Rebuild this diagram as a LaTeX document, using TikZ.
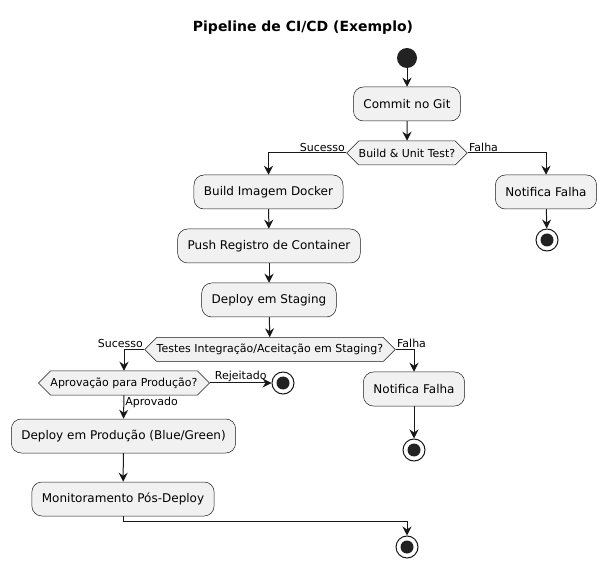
\documentclass[tikz,border=0pt]{standalone}
\usepackage{fontspec}
\setmainfont{DejaVu Sans}
\usetikzlibrary{arrows.meta,shapes.symbols}
\definecolor{linha}{HTML}{181818}
\definecolor{fundo}{HTML}{F1F1F1}
\definecolor{ponto}{HTML}{222222}
\tikzset{
  acao/.style={draw=linha, fill=fundo, rounded corners=10pt, minimum height=34pt,
    inner xsep=10pt, line width=0.5pt, font=\fontsize{12}{14}\selectfont},
  decisao/.style={draw=linha, fill=fundo, shape=signal, signal to=west and east,
    signal pointer angle=90, minimum height=24pt, inner xsep=0pt, line width=0.5pt,
    font=\fontsize{11}{13}\selectfont},
  seta/.style={draw=linha, line width=1pt, -{Stealth[length=9pt,width=9pt,inset=3pt]}},
  rotulo/.style={font=\fontsize{11}{13}\selectfont, inner sep=1pt},
  inicio/.style={circle, fill=ponto, minimum size=20pt, inner sep=0pt},
  fim/.style={circle, draw=linha, fill=white, line width=1pt, minimum size=22pt,
    inner sep=0pt, path picture={\fill[ponto] (path picture bounding box.center) circle (6.5pt);}},
}
\begin{document}
\begin{tikzpicture}[x=1pt,y=-1pt]
  \useasboundingbox (0,0) rectangle (608,569);
  \node[font=\bfseries\fontsize{14}{16}\selectfont] (titulo) at (303,28) {Pipeline de CI/CD (Exemplo)};

  % fluxo principal
  \node[inicio] (inicio) at (407,58) {};
  \node[acao] (commit) at (407,104) {Commit no Git};
  \node[decisao] (teste) at (407,153) {Build \& Unit Test?};
  \node[acao] (docker) at (268.5,192) {Build Imagem Docker};
  \node[acao] (falha1) at (546,192) {Notifica Falha};
  \node[fim] (fim1) at (547,240) {};
  \node[acao] (registro) at (269,246) {Push Registro de Container};
  \node[acao] (staging) at (269,300) {Deploy em Staging};
  \node[decisao] (aceite) at (270,349.5) {Testes Integração/Aceitação em Staging?};
  \node[decisao] (aprova) at (124,383) {Aprovação para Produção?};
  \node[fim] (fim2) at (283,383) {};
  \node[acao] (falha2) at (414,389) {Notifica Falha};
  \node[fim] (fim3) at (414,450) {};
  \node[acao] (producao) at (123.5,436) {Deploy em Produção (Blue/Green)};
  \node[acao] (monitor) at (123,499) {Monitoramento Pós-Deploy};
  \node[fim] (fim4) at (407,547) {};

  % conectores
  \draw[seta] (inicio) -- (commit);
  \draw[seta] (commit) -- (teste);
  \draw[seta] (teste.west) node[rotulo, anchor=south east] {Sucesso} -| (docker.north);
  \draw[seta] (teste.east) node[rotulo, anchor=south west] {Falha} -| (falha1.north);
  \draw[seta] (falha1) -- (fim1);
  \draw[seta] (docker) -- (registro);
  \draw[seta] (registro) -- (staging);
  \draw[seta] (staging) -- (aceite);
  \draw[seta] (aceite.west) node[rotulo, anchor=south east] {Sucesso} -| (aprova.north);
  \draw[seta] (aceite.east) node[rotulo, anchor=south west] {Falha} -| (falha2.north);
  \draw[seta] (falha2) -- (fim3);
  \draw[seta] (aprova.east) -- node[rotulo, above] {Rejeitado} (fim2);
  \draw[seta] (aprova.south) -- node[rotulo, right, pos=0.3] {Aprovado} (producao.north);
  \draw[seta] (producao) -- (monitor);
  \draw[seta] (monitor.south) -- ++(0,5) -| (fim4.north);
\end{tikzpicture}
\end{document}
